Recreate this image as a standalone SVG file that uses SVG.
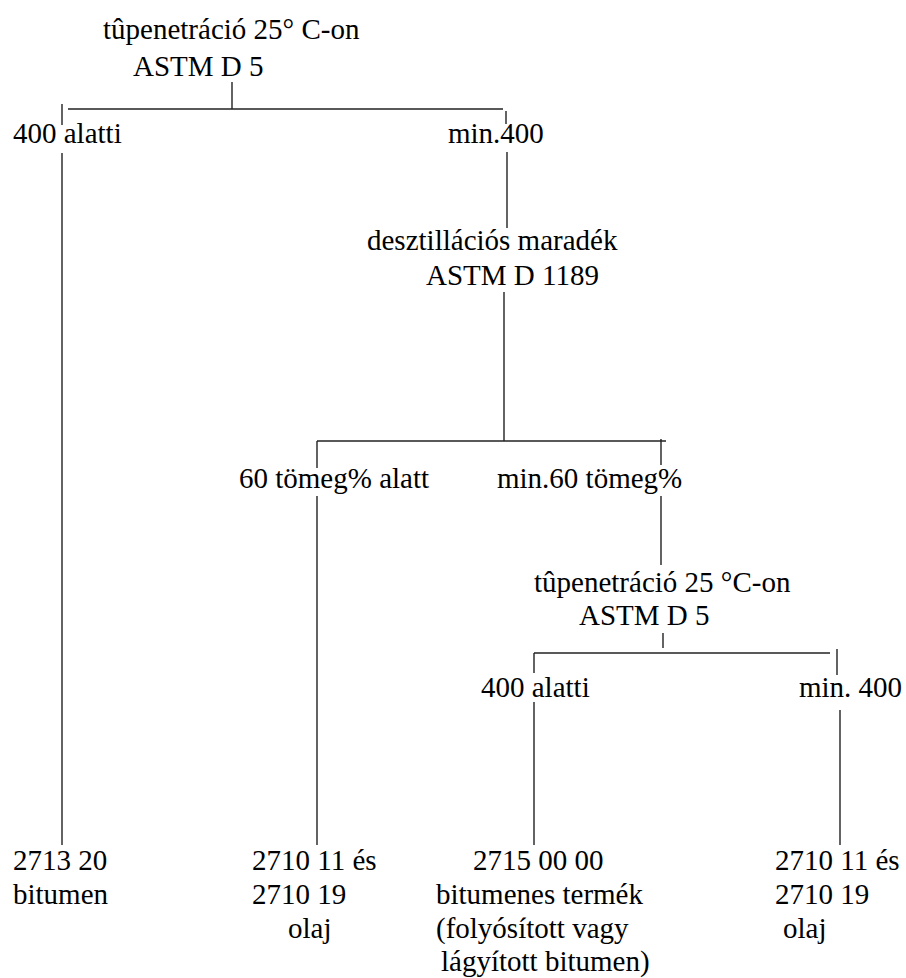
<svg xmlns="http://www.w3.org/2000/svg" width="906" height="978" viewBox="0 0 906 978">
<style>
.t text{font-size:29px;fill:#000}
.c line{stroke:#222;stroke-width:1.4}
</style>
<rect width="906" height="978" fill="#fff"/>
<g class="c" id="connectors">
<line x1="232" y1="82" x2="232" y2="109"/>
<line x1="68" y1="109" x2="503" y2="109"/>
<line x1="62" y1="104" x2="62" y2="125"/>
<line x1="506" y1="111" x2="506" y2="124"/>
<line x1="62" y1="153" x2="62" y2="845"/>
<line x1="507" y1="152" x2="507" y2="228"/>
<line x1="504" y1="292" x2="504" y2="441"/>
<line x1="317" y1="441" x2="666" y2="441"/>
<line x1="317" y1="441" x2="317" y2="468"/>
<line x1="661" y1="439" x2="661" y2="465"/>
<line x1="317" y1="496" x2="317" y2="845"/>
<line x1="661" y1="496" x2="661" y2="565"/>
<line x1="663" y1="633" x2="663" y2="648"/>
<line x1="534" y1="653" x2="830" y2="653"/>
<line x1="534" y1="653" x2="534" y2="673"/>
<line x1="837" y1="649" x2="837" y2="675"/>
<line x1="534" y1="702" x2="534" y2="845"/>
<line x1="840" y1="710" x2="840" y2="845"/>
</g>
<g class="t" font-family="Liberation Serif, Tinos, DejaVu Serif, serif">
<g id="n-root"><text x="103" y="39">tûpenetráció 25° C-on</text><text x="133" y="76">ASTM D 5</text></g>
<g id="n-below400"><text x="13" y="143">400 alatti</text></g>
<g id="n-min400"><text x="448" y="143">min.400</text></g>
<g id="n-desztill"><text x="367" y="250">desztillációs maradék</text><text x="426" y="285">ASTM D 1189</text></g>
<g id="n-below60"><text x="239" y="488">60 tömeg% alatt</text></g>
<g id="n-min60"><text x="497" y="488">min.60 tömeg%</text></g>
<g id="n-pen2"><text x="534" y="592">tûpenetráció 25 °C-on</text><text x="579" y="625">ASTM D 5</text></g>
<g id="n-below400b"><text x="481" y="697">400 alatti</text></g>
<g id="n-min400b"><text x="799" y="697">min. 400</text></g>
<g id="n-2713"><text x="13" y="870">2713 20</text><text x="13" y="904">bitumen</text></g>
<g id="n-2710a"><text x="252" y="870">2710 11 és</text><text x="252" y="904">2710 19</text><text x="288" y="938">olaj</text></g>
<g id="n-2715"><text x="473" y="870">2715 00 00</text><text x="436" y="904">bitumenes termék</text><text x="436" y="938">(folyósított vagy</text><text x="441" y="971">lágyított bitumen)</text></g>
<g id="n-2710b"><text x="775" y="870">2710 11 és</text><text x="775" y="904">2710 19</text><text x="783" y="938">olaj</text></g>
</g>
</svg>
